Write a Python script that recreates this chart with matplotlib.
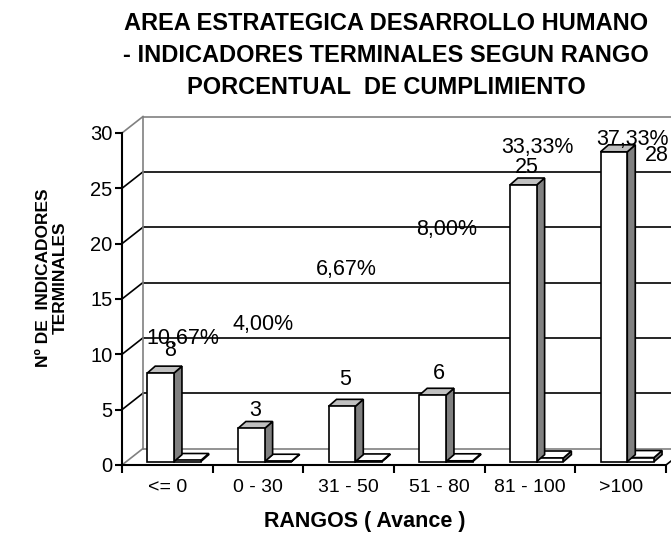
import matplotlib
matplotlib.use("Agg")
import matplotlib.pyplot as plt
from matplotlib.patches import Polygon

plt.rcParams['font.family'] = ['Liberation Sans', 'DejaVu Sans']

categories = ["<= 0", "0 - 30", "31 - 50", "51 - 80", "81 - 100", ">100"]
counts = [8, 3, 5, 6, 25, 28]
percent = [10.67, 4.00, 6.67, 8.00, 33.33, 37.33]
percent_labels = ["10,67%", "4,00%", "6,67%", "8,00%", "33,33%", "37,33%"]
yticks = [0, 5, 10, 15, 20, 25, 30]

# label placement (layout only)
count_lbl_dx = [0.025, -0.033, -0.037, 0.0, -0.033, 0.4]
count_lbl_dy = [2.32, 1.9, 2.77, 2.25, 1.92, -0.04]
pct_lbl_x = [0.676, 1.559, 2.478, 3.584, 4.585, 5.63]
pct_lbl_y = [11.45, 12.67, 17.69, 21.26, 28.68, 29.43]

W, H = 671, 537
fig = plt.figure(figsize=(W / 100, H / 100), dpi=100)
L, R, B, T = 122, 666, 465, 133
ax = fig.add_axes([L / W, (H - B) / H, (R - L) / W, (B - T) / H])
ax.set_xlim(0, 6)
ax.set_ylim(0, 30)
for s in ax.spines.values():
    s.set_visible(False)

# wall depth in data units
ux = (R - L) / 6.0
uy = (B - T) / 30.0
wdx = 21 / ux
wdy = 16.5 / uy
grey = "#808080"
xmax_far = 7.0

# back wall gridlines and side wall diagonals
for v in yticks:
    col = "black" if 0 < v < 30 else grey
    ax.plot([wdx, xmax_far], [v + wdy, v + wdy], color=col, lw=1.2, clip_on=False, zorder=1)
    ax.plot([0, wdx], [v, v + wdy], color=col, lw=1.2, clip_on=False, zorder=1)
ax.plot([wdx, wdx], [wdy, 30 + wdy], color=grey, lw=1.2, clip_on=False, zorder=1)
# floor right edge
ax.plot([6, 6 + wdx], [0, wdy], color="black", lw=1.2, clip_on=False, zorder=1)

# bars
bdx = 8 / ux
bdy = 7 / uy
base = 0.3
bw = 0.295
off = 0.278


def draw_bar(x0, h, z):
    y0 = base
    y1 = base + h
    front = Polygon([(x0, y0), (x0 + bw, y0), (x0 + bw, y1), (x0, y1)], closed=True,
                    facecolor="white", edgecolor="black", lw=1.2, zorder=z, clip_on=False)
    side = Polygon([(x0 + bw, y0), (x0 + bw + bdx, y0 + bdy), (x0 + bw + bdx, y1 + bdy), (x0 + bw, y1)],
                   closed=True, facecolor=grey, edgecolor="black", lw=1.2, zorder=z, clip_on=False)
    top = Polygon([(x0, y1), (x0 + bw, y1), (x0 + bw + bdx, y1 + bdy), (x0 + bdx, y1 + bdy)],
                  closed=True, facecolor="#c0c0c0" if h > 1 else "white", edgecolor="black",
                  lw=1.2, zorder=z, clip_on=False)
    ax.add_patch(side)
    ax.add_patch(top)
    ax.add_patch(front)


for i, (c, p) in enumerate(zip(counts, percent)):
    draw_bar(i + off + bw, p / 100.0, 3 + 2 * i)
    draw_bar(i + off, c, 4 + 2 * i)

# axes lines
ax.plot([0, 0], [0, 30], color="black", lw=1.5, clip_on=False, zorder=20)
ax.plot([0, 6], [0, 0], color="black", lw=1.5, clip_on=False, zorder=20)

ax.set_yticks(yticks)
ax.set_yticklabels([str(v) for v in yticks], fontsize=14.5)
ax.set_xticks([i for i in range(7)])
ax.set_xticklabels([])
ax.set_xticks([i + 0.5 for i in range(6)], minor=True)
ax.set_xticklabels(categories, minor=True, fontsize=14)
ax.tick_params(axis="x", which="minor", length=0, pad=10)
ax.tick_params(axis="x", which="major", length=6, width=1.5, direction="out")
ax.tick_params(axis="y", length=5, width=1.5, direction="out", pad=2)

# labels
for i, c in enumerate(counts):
    ax.text(i + 0.5 + count_lbl_dx[i], c + count_lbl_dy[i], str(c), ha="center", va="center",
            fontsize=15.5, zorder=30, clip_on=False)
for i, s in enumerate(percent_labels):
    ax.text(pct_lbl_x[i], pct_lbl_y[i], s, ha="center", va="center", fontsize=15.5, zorder=30,
            clip_on=False)

fig.text(386 / W, 1 - 55 / H,
         "AREA ESTRATEGICA DESARROLLO HUMANO\n- INDICADORES TERMINALES SEGUN RANGO\nPORCENTUAL  DE CUMPLIMIENTO",
         ha="center", va="center", fontsize=17, fontweight="bold", linespacing=1.5)
fig.text(52 / W, 1 - 278 / H, "Nº DE  INDICADORES\nTERMINALES", rotation=90, ha="center",
         va="center", fontsize=12.5, fontweight="bold", linespacing=1.1)
fig.text(365 / W, 1 - 522 / H, "RANGOS ( Avance )", ha="center", va="center", fontsize=15.5,
         fontweight="bold")

fig.savefig("out.png", dpi=100)
